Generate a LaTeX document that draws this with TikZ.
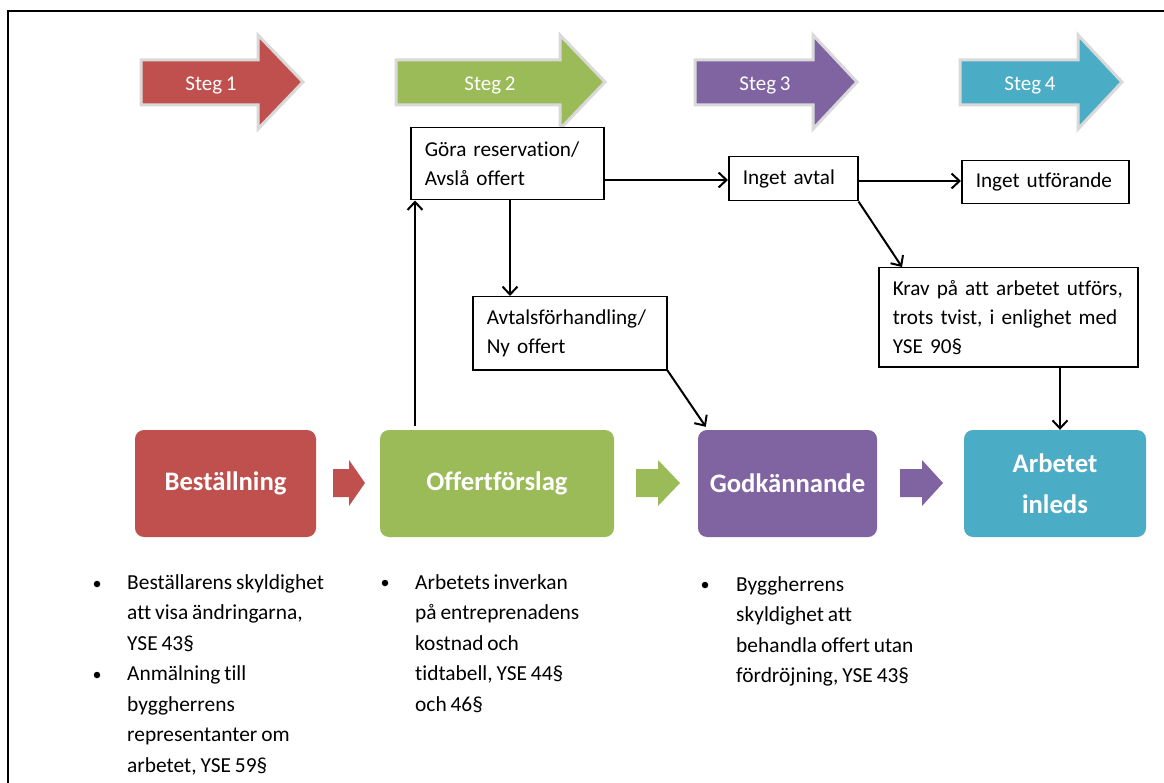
\documentclass[tikz,border=0pt]{standalone}
\usepackage{fontspec}
\setmainfont{Carlito}[Ligatures=NoCommon, WordSpace=0.8]
\usetikzlibrary{arrows.meta,calc}
\definecolor{cred}{HTML}{C0504D}
\definecolor{cgreen}{HTML}{9BBB59}
\definecolor{cpurple}{HTML}{8064A2}
\definecolor{cteal}{HTML}{4BACC6}
\definecolor{stepgray}{HTML}{D9D9D9}
\begin{document}
\begin{tikzpicture}[x=1pt,y=-1pt,
  stepshape/.style={draw=stepgray, line width=3pt, line join=miter},
  steglabel/.style={text=white, inner sep=0pt, font=\fontsize{21}{25}\selectfont},
  mainbox/.style={rounded corners=9pt, minimum height=107pt, text=white, inner sep=0pt,
    align=center, font=\bfseries\fontsize{26.7}{41}\selectfont},
  tbox/.style={draw=black, line width=1.5pt, fill=white, align=left, inner xsep=14pt,
    inner ysep=0pt, anchor=north west, font=\fontsize{21.2}{29}\selectfont,
    execute at begin node={\hyphenpenalty=10000\exhyphenpenalty=10000}},
  conn/.style={line width=2pt, -{Straight Barb[length=8pt,width=15pt]}},
  bul/.style={circle, fill=black, inner sep=0pt, minimum size=6.5pt},
  btext/.style={anchor=base west, inner sep=0pt, font=\fontsize{21.4}{24}\selectfont},
]
\useasboundingbox (0,0) rectangle (1164,783);
\fill[white] (0,0) rectangle (1164,783);
% frame
\draw[line width=2.5pt] (8,790) -- (8,11) -- (1170,11);

% step arrows
\filldraw[stepshape, fill=cred] (141,60) -- (258,60) -- (258,35) -- (303,82) -- (258,129) -- (258,105) -- (141,105) -- cycle;
\filldraw[stepshape, fill=cgreen] (396,60) -- (560,60) -- (560,35) -- (605,82) -- (560,129) -- (560,105) -- (396,105) -- cycle;
\filldraw[stepshape, fill=cpurple] (695,60) -- (813,60) -- (813,35) -- (857,82) -- (813,129) -- (813,105) -- (695,105) -- cycle;
\filldraw[stepshape, fill=cteal] (960,60) -- (1078,60) -- (1078,35) -- (1122,82) -- (1078,129) -- (1078,105) -- (960,105) -- cycle;
\node[steglabel] (s1) at (211,85) {Steg 1};
\node[steglabel] (s2) at (490,85) {Steg 2};
\node[steglabel] (s3) at (765,85) {Steg 3};
\node[steglabel] (s4) at (1030,85) {Steg 4};

% main boxes
\node[mainbox, fill=cred, minimum width=181pt] (best) at (225.5,483.5) {Beställning};
\node[mainbox, fill=cgreen, minimum width=234pt] (offert) at (497,483.5) {Offertförslag};
\node[mainbox, fill=cpurple, minimum width=179pt] (godk) at (787.5,483.5) {Godkännande};
\node[mainbox, fill=cteal, minimum width=182pt] (arb) at (1055,483.5) {Arbetet\\inleds};

% small block arrows
\fill[cred] (333,469) -- (349,469) -- (349,460) -- (365,483) -- (349,506) -- (349,497) -- (333,497) -- cycle;
\fill[cgreen] (636,469) -- (658,469) -- (658,460) -- (680,483) -- (658,506) -- (658,497) -- (636,497) -- cycle;
\fill[cpurple] (900,469) -- (922,469) -- (922,460) -- (943,483) -- (922,506) -- (922,497) -- (900,497) -- cycle;

% text boxes
\node[tbox, text width=165pt, minimum height=72pt] (gora) at (410,127) {Göra reservation/\\Avslå offert};
\node[tbox, text width=101pt, minimum height=44pt] (avtal) at (728,156) {Inget avtal};
\node[tbox, text width=139pt, minimum height=43pt] (utf) at (961,160) {Inget utförande};
\node[tbox, text width=166pt, minimum height=73pt] (avtals) at (472,296) {Avtalsförhandling/\\Ny offert};
\node[tbox, text width=231pt, minimum height=99pt] (krav) at (878,267) {Krav på att arbetet utförs,\\trots tvist, i enlighet med\\YSE 90§};

% connectors
\coordinate (upx) at (415,0);
\coordinate (dnx) at (510,0);
\coordinate (krx) at (1060,0);
\coordinate (y180) at (0,180);
\coordinate (y181) at (0,181);
\draw[conn, shorten <=4pt] (upx |- offert.north) -- (upx |- gora.south);
\draw[conn] (dnx |- gora.south) -- (dnx |- avtals.north);
\draw[conn] (gora.east |- y180) -- (avtal.west |- y180);
\draw[conn] (avtal.east |- y181) -- (utf.west |- y181);
\draw[conn] (avtal.south east) -- ([xshift=24pt]krav.north west);
\draw[conn] (avtals.south east) -- ([xshift=8pt,yshift=3pt]godk.north west);
\draw[conn] (krx |- krav.south) -- (krx |- arb.north);

% bullet lists
\node[bul] (b1) at (97,584) {};
\node[bul] (b2) at (97,675) {};
\node[bul] (b3) at (385,583) {};
\node[bul] (b4) at (705,585) {};
\node[btext] (l11) at (127,589) {Beställarens skyldighet};
\node[btext] (l12) at (127,619.5) {att visa ändringarna,};
\node[btext] (l13) at (127,650) {YSE 43§};
\node[btext] (l14) at (127,680.5) {Anmälning till};
\node[btext] (l15) at (127,711) {byggherrens};
\node[btext] (l16) at (127,741.5) {representanter om};
\node[btext] (l17) at (127,772) {arbetet, YSE 59§};
\node[btext] (l21) at (415,589) {Arbetets inverkan};
\node[btext] (l22) at (415,619.5) {på entreprenadens};
\node[btext] (l23) at (415,650) {kostnad och};
\node[btext] (l24) at (415,680.5) {tidtabell, YSE 44§};
\node[btext] (l25) at (415,711) {och 46§};
\node[btext] (l31) at (736,591) {Byggherrens};
\node[btext] (l32) at (736,621.5) {skyldighet att};
\node[btext] (l33) at (736,652) {behandla offert utan};
\node[btext] (l34) at (736,682.5) {fördröjning, YSE 43§};
\end{tikzpicture}
\end{document}
